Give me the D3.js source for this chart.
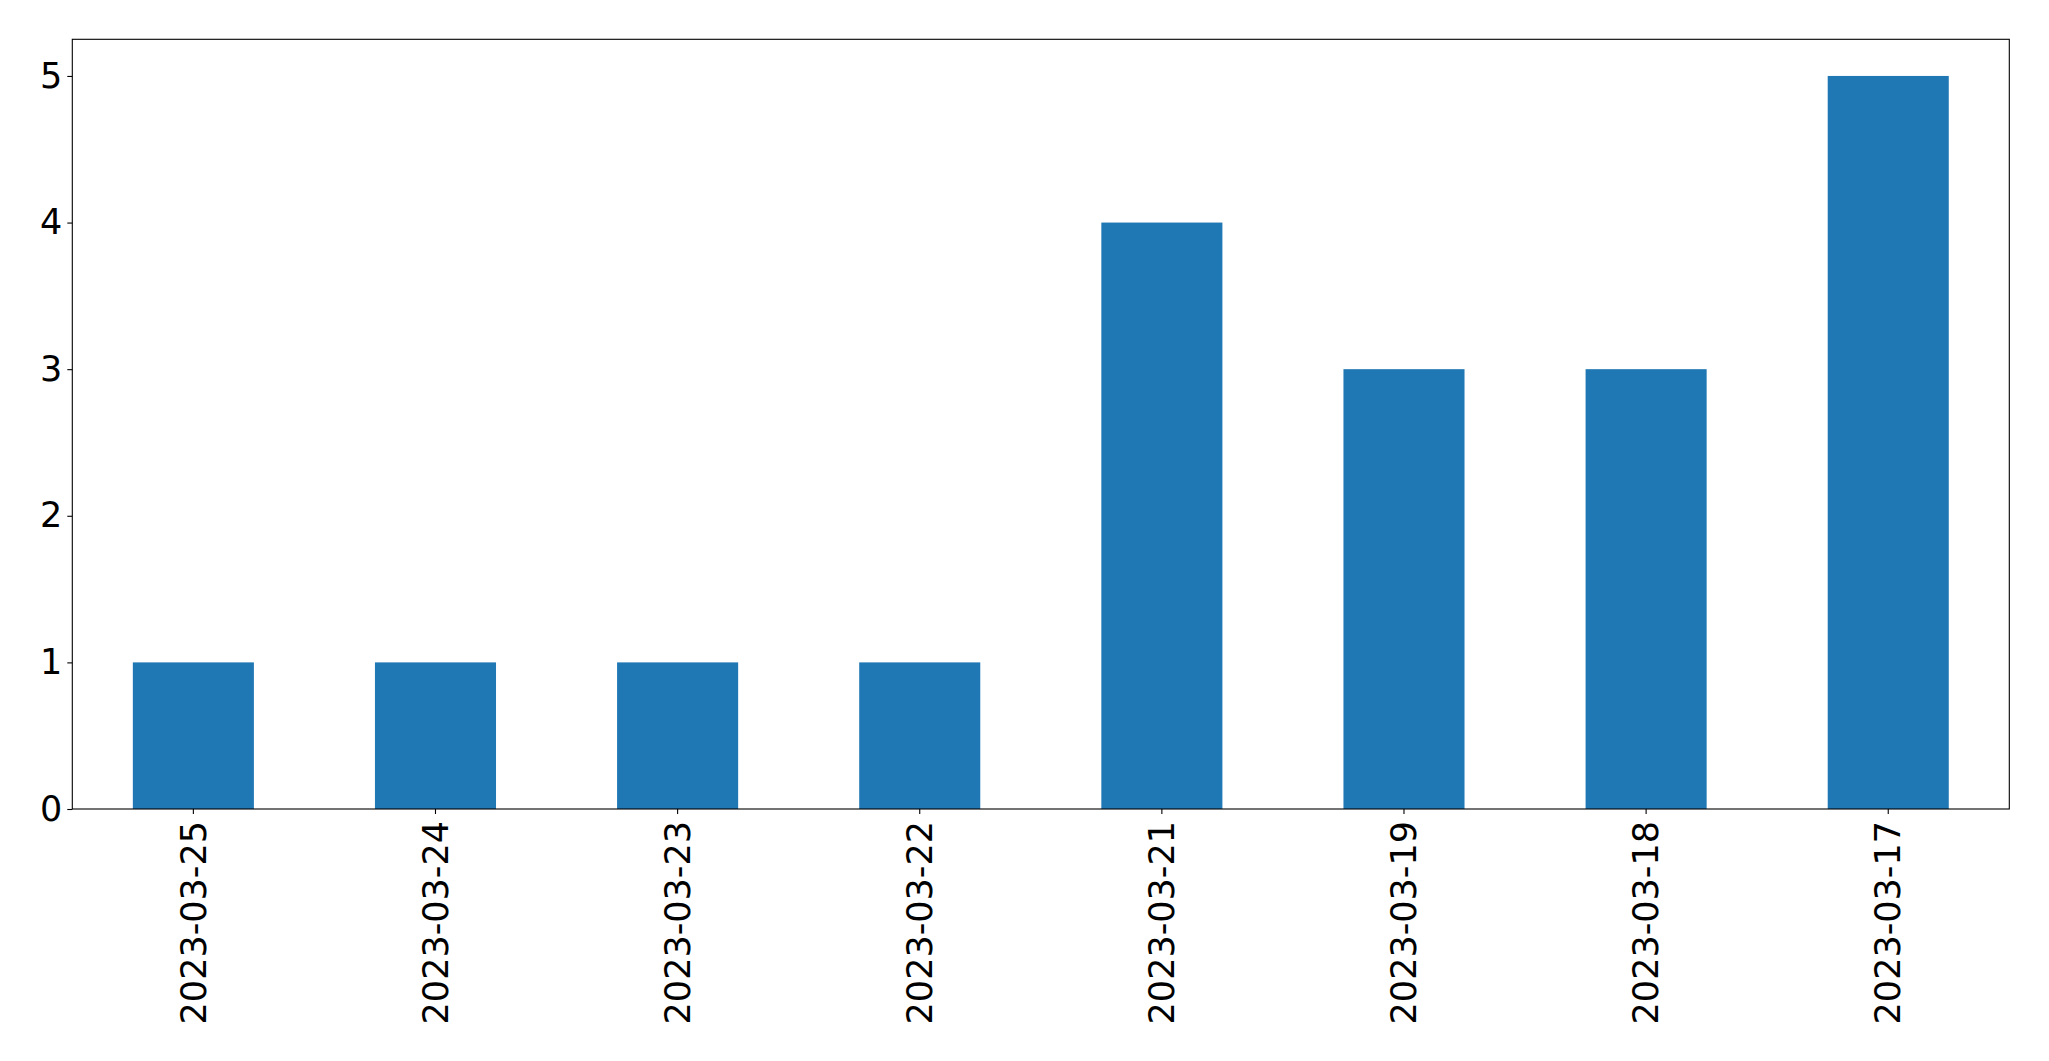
<!DOCTYPE html>
<html><head><meta charset="utf-8">
<script src="https://cdn.jsdelivr.net/npm/d3@7"></script>
<style>body{margin:0;background:#fff;}svg{display:block;}</style>
</head><body>
<svg id="chart" width="2049" height="1061"></svg>
<script>
const categories = ["2023-03-25","2023-03-24","2023-03-23","2023-03-22","2023-03-21","2023-03-19","2023-03-18","2023-03-17"];
const values = [1,1,1,1,4,3,3,5];
const yTicks = [0,1,2,3,4,5];

(function(){
const mLeft = 72.3, mRight = 2009.3, mTop = 39.3, mBottom = 809;
const svg = d3.select("#chart");
const x = d3.scaleBand().domain(categories).range([mLeft, mRight]).paddingInner(0.5).paddingOuter(0.25);
const y = d3.scaleLinear().domain([0, 5.25]).range([mBottom, mTop]);

svg.append("g").selectAll("rect").data(values).join("rect")
  .attr("x", (d,i)=>x(categories[i]))
  .attr("width", x.bandwidth())
  .attr("y", d=>y(d))
  .attr("height", d=>y(0)-y(d))
  .attr("fill", "#1f77b4");

const font = "DejaVu Sans";
const fs = 35;
const yAxis = svg.append("g").attr("transform", `translate(${mLeft},0)`)
  .call(d3.axisLeft(y).tickValues(yTicks).tickFormat(d3.format("d")).tickSize(5).tickPadding(5));
yAxis.select(".domain").remove();
yAxis.selectAll("text").attr("font-family", font).attr("font-size", fs).attr("fill","#000");
yAxis.selectAll("line").attr("stroke","#000").attr("stroke-width",1.1);

const xAxis = svg.append("g").attr("transform", `translate(0,${mBottom})`)
  .call(d3.axisBottom(x).tickSize(5).tickPadding(5));
xAxis.select(".domain").remove();
xAxis.selectAll("line").attr("stroke","#000").attr("stroke-width",1.1);
xAxis.selectAll("text")
  .attr("font-family", font).attr("font-size", fs).attr("fill","#000")
  .attr("text-anchor","end")
  .attr("transform","rotate(-90)")
  .attr("x", -12).attr("y", 0).attr("dy","0.35em");

svg.append("rect").attr("x", mLeft).attr("y", mTop).attr("width", mRight-mLeft).attr("height", mBottom-mTop)
  .attr("fill","none").attr("stroke","#000").attr("stroke-width",1.1);
})();
</script>
</body></html>
